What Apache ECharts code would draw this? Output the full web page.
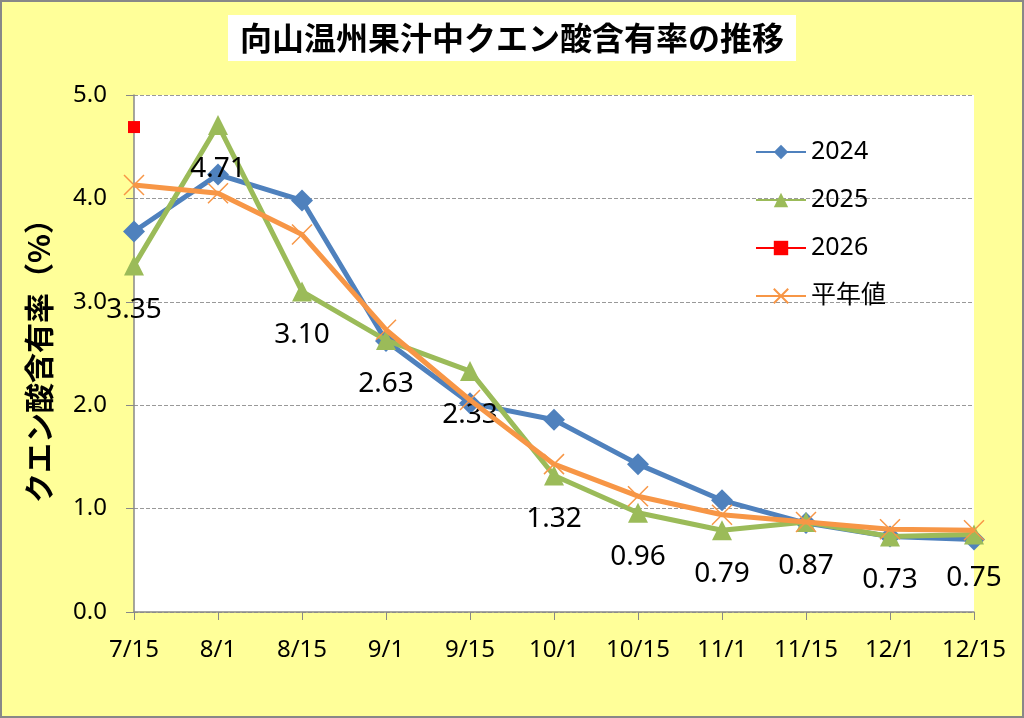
<!DOCTYPE html>
<html lang="ja">
<head>
    <meta charset="UTF-8">
    <title>向山温州果汁中クエン酸含有率の推移</title>
    <script src="https://cdn.jsdelivr.net/npm/echarts@6/dist/echarts.min.js"></script>
    <style>
        body { margin: 0; background: #fff; }
        #main { width: 1024px; height: 718px; }
    </style>
</head>
<body>
    <div id="main"></div>
    <script>
        // データ
        var dates = ['7/15', '8/1', '8/15', '9/1', '9/15', '10/1', '10/15', '11/1', '11/15', '12/1', '12/15'];
        var y2024 = [3.68, 4.23, 3.98, 2.62, 2.02, 1.86, 1.43, 1.08, 0.86, 0.73, 0.70];
        var y2025 = [3.35, 4.71, 3.10, 2.63, 2.33, 1.32, 0.96, 0.79, 0.87, 0.73, 0.75];
        var y2026 = [4.69, null, null, null, null, null, null, null, null, null, null];
        var normal = [4.13, 4.05, 3.65, 2.73, 2.05, 1.43, 1.12, 0.94, 0.87, 0.80, 0.79];

        var font = '"Noto Sans", "Noto Sans CJK JP", sans-serif';
        var jpFont = '"Noto Sans CJK JP", sans-serif';
        var chart = echarts.init(document.getElementById('main'));

        var option = {
            backgroundColor: '#FFFF99',
            textStyle: { fontFamily: font },
            title: {
                text: '向山温州果汁中クエン酸含有率の推移',
                left: 'center',
                top: 15,
                backgroundColor: '#fff',
                padding: [7, 12],
                textStyle: { fontSize: 32, fontWeight: 'bold', color: '#000', fontFamily: jpFont }
            },
            graphic: [{
                type: 'rect',
                shape: { x: 1, y: 1, width: 1022, height: 716 },
                style: { fill: 'none', stroke: '#888', lineWidth: 2 }
            }],
            legend: {
                orient: 'vertical',
                left: 750,
                top: 133,
                itemWidth: 50,
                itemHeight: 18,
                itemGap: 20,
                textStyle: { fontSize: 25, lineHeight: 28, color: '#000', fontFamily: font },
                data: ['2024', '2025', '2026', '平年値']
            },
            grid: {
                left: 134,
                right: 50,
                top: 95,
                bottom: 106,
                show: true,
                backgroundColor: '#fff',
                borderWidth: 0
            },
            xAxis: {
                type: 'category',
                data: dates,
                boundaryGap: false,
                axisLine: { lineStyle: { color: '#888', width: 1.5 } },
                axisTick: { show: true, alignWithLabel: true, length: 8, lineStyle: { color: '#888' } },
                axisLabel: { fontSize: 24, color: '#000', margin: 26 },
                splitLine: { show: false }
            },
            yAxis: {
                type: 'value',
                min: 0,
                max: 5,
                interval: 1,
                name: 'クエン酸含有率（%）',
                nameLocation: 'middle',
                nameGap: 80,
                nameTextStyle: { fontSize: 30, fontWeight: 'bold', color: '#000', fontFamily: jpFont },
                axisLine: { show: true, lineStyle: { color: '#888', width: 1.5 } },
                axisTick: { show: true, length: 8, lineStyle: { color: '#888' } },
                axisLabel: {
                    fontSize: 24, color: '#000', margin: 27,
                    formatter: function (v) { return v.toFixed(1); }
                },
                splitLine: { lineStyle: { color: '#999', type: 'dashed', width: 1 } }
            },
            series: [
                {
                    name: '2024',
                    type: 'line',
                    data: y2024,
                    symbol: 'diamond',
                    symbolSize: 22,
                    itemStyle: { color: '#4F81BD' },
                    lineStyle: { color: '#4F81BD', width: 5 },
                    z: 3
                },
                {
                    name: '2025',
                    type: 'line',
                    data: y2025,
                    symbol: 'triangle',
                    symbolSize: 20,
                    itemStyle: { color: '#9BBB59' },
                    lineStyle: { color: '#9BBB59', width: 5 },
                    label: {
                        show: true,
                        position: 'bottom',
                        distance: 20,
                        fontSize: 28,
                        color: '#000',
                        formatter: function (p) { return p.value.toFixed(2); }
                    },
                    z: 4
                },
                {
                    name: '2026',
                    type: 'line',
                    data: y2026,
                    symbol: 'rect',
                    symbolSize: 12,
                    itemStyle: { color: '#FF0000' },
                    lineStyle: { color: '#FF0000', width: 5 },
                    z: 5
                },
                {
                    name: '平年値',
                    type: 'line',
                    data: normal,
                    symbol: 'path://M0,0L10,10M10,0L0,10',
                    symbolSize: 20,
                    itemStyle: { color: 'transparent', borderColor: '#F79646', borderWidth: 1.5 },
                    lineStyle: { color: '#F79646', width: 5 },
                    z: 6
                }
            ]
        };

        chart.setOption(option);
    </script>
</body>
</html>
